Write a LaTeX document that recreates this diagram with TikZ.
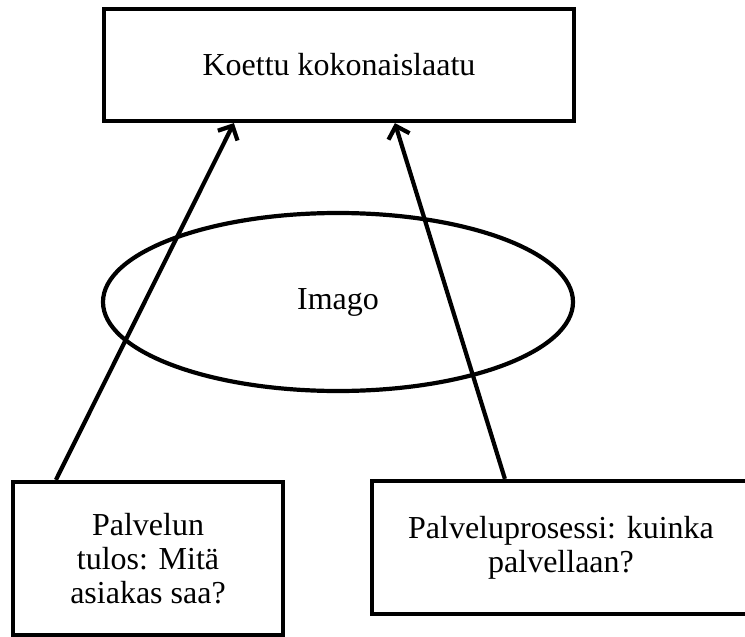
\documentclass[tikz,border=0pt]{standalone}
\usepackage{fontspec}
\setmainfont{Liberation Serif}
\usetikzlibrary{arrows.meta,shapes.geometric,calc}
\tikzset{
  frame/.style={draw=black, line width=4.2pt, fill=white, inner sep=0pt, align=center,
    font=\fontsize{32}{34}\selectfont},
  oval/.style={ellipse, draw=black, line width=4.2pt, inner sep=0pt,
    font=\fontsize{32}{34}\selectfont},
  link/.style={line width=4.2pt, -{Straight Barb[length=11pt,width=22pt,line width=4.2pt]}}
}
\begin{document}
\begin{tikzpicture}[x=1pt,y=-1pt]
  \useasboundingbox (0,0) rectangle (745,637);
  % outcome box at the top
  \node[frame, minimum width=470pt, minimum height=112pt] (total) at (339,65) {Koettu kokonaislaatu};
  % image filter in the middle
  \node[oval, minimum width=470pt, minimum height=178pt] (imago) at (338,302) {Imago};
  % the two quality dimensions below
  \node[frame, minimum width=270pt, minimum height=153pt] (result) at (148,558.5)
    {Palvelun\\tulos: Mitä\\asiakas saa?};
  \node[frame, minimum width=378pt, minimum height=133pt] (process) at (561,547.5)
    {Palveluprosessi: kuinka\\palvellaan?};
  % connectors running through the image
  \coordinate (rs) at ($(result.north west)+(45,0)$);
  \coordinate (ps) at ($(process.north west)+(135,0)$);
  \coordinate (te1) at ($(total.south west)+(132,0)$);
  \coordinate (te2) at ($(total.south west)+(293,0)$);
  \draw[link] (rs) -- (te1);
  \draw[link] (ps) -- (te2);
\end{tikzpicture}
\end{document}
